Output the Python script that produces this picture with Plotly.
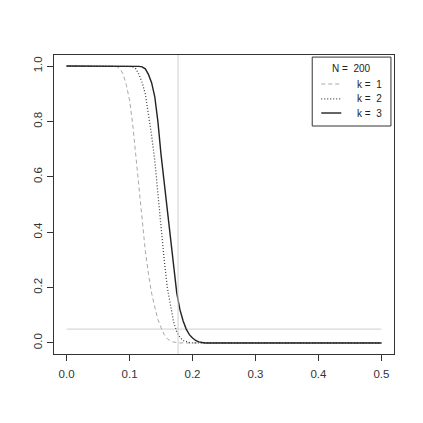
import plotly.graph_objects as go

# valores (potencia vs. efecto), N = 200
x_k1 = [0.0, 0.07, 0.075, 0.08, 0.085, 0.09, 0.095, 0.10, 0.105, 0.11, 0.115, 0.12,
        0.125, 0.13, 0.135, 0.14, 0.145, 0.15, 0.155, 0.16, 0.165, 0.17, 0.175, 0.18, 0.5]
y_k1 = [1.0, 1.0, 1.0, 0.998, 0.99, 0.97, 0.93, 0.877, 0.79, 0.68, 0.56, 0.44,
        0.333, 0.25, 0.18, 0.13, 0.085, 0.055, 0.03, 0.015, 0.007, 0.003, 0.001, 0.0, 0.0]

x_k2 = [0.0, 0.09, 0.10, 0.105, 0.11, 0.115, 0.12, 0.125, 0.13, 0.135, 0.14, 0.145,
        0.15, 0.155, 0.16, 0.165, 0.17, 0.175, 0.18, 0.185, 0.19, 0.195, 0.20, 0.5]
y_k2 = [1.0, 1.0, 0.999, 0.997, 0.99, 0.97, 0.94, 0.90, 0.83, 0.75, 0.66, 0.54,
        0.41, 0.30, 0.20, 0.13, 0.075, 0.04, 0.02, 0.009, 0.004, 0.001, 0.0, 0.0]

x_k3 = [0.0, 0.11, 0.115, 0.12, 0.125, 0.13, 0.135, 0.14, 0.145, 0.15, 0.155, 0.16,
        0.165, 0.17, 0.175, 0.18, 0.185, 0.19, 0.195, 0.20, 0.205, 0.21, 0.215, 0.22, 0.5]
y_k3 = [1.0, 1.0, 0.999, 0.997, 0.99, 0.97, 0.94, 0.89, 0.80, 0.68, 0.58, 0.47,
        0.36, 0.27, 0.18, 0.12, 0.08, 0.05, 0.03, 0.018, 0.009, 0.004, 0.001, 0.0, 0.0]

alfa = 0.05
x_critico = 0.177
rango_alfa = [0.0, 0.5]
etiquetas = ["k =  1", "k =  2", "k =  3"]
titulo_leyenda = "N =  200"

fig = go.Figure()

# lineas de referencia
fig.add_trace(go.Scatter(x=rango_alfa, y=[alfa, alfa], mode="lines",
                         line=dict(color="#cfcfcf", width=1), showlegend=False))
fig.add_shape(type="line", x0=x_critico, x1=x_critico, xref="x", y0=0, y1=1, yref="paper",
              line=dict(color="#cfcfcf", width=1))

estilos = [dict(color="#a8a8a8", width=1, dash="4px,3px"),
           dict(color="#444444", width=1.3, dash="1px,2px"),
           dict(color="#222222", width=1.4)]

for xs, ys, est in zip([x_k1, x_k2, x_k3], [y_k1, y_k2, y_k3], estilos):
    fig.add_trace(go.Scatter(x=xs, y=ys, mode="lines", line=est, showlegend=False))

# leyenda hecha a mano (como la de R)
fig.add_shape(type="rect", xref="paper", yref="paper", x0=0.7595, x1=0.991, y0=0.7625, y1=0.993,
              line=dict(color="#333333", width=1), fillcolor="white")
fig.add_annotation(text=titulo_leyenda, xref="paper", yref="paper", x=0.874, y=0.9565,
                   xanchor="center", yanchor="middle",
                   showarrow=False, font=dict(size=10, color="#222222"))
ys_ley = [0.903, 0.853, 0.806]
for yl, est, lab in zip(ys_ley, estilos, etiquetas):
    fig.add_shape(type="line", xref="paper", yref="paper", x0=0.786, x1=0.845, y0=yl, y1=yl, line=est)
    fig.add_annotation(text=lab, xref="paper", yref="paper", x=0.885, y=yl,
                       xanchor="left", yanchor="middle",
                       showarrow=False, font=dict(size=10, color="#222222"))

eje = dict(showline=True, mirror=True, linecolor="#333333", linewidth=1, showgrid=False,
           zeroline=False, ticks="outside", ticklen=6, tickcolor="#333333",
           tickfont=dict(family="Liberation Sans, Arial", size=11.5, color="#333333"))

# la pagina tiene 8px de margen en el body: 415 + 8 = 423
fig.update_layout(
    width=415, height=415,
    margin=dict(l=46, r=29, t=47, b=69),
    plot_bgcolor="white", paper_bgcolor="white",
    xaxis=dict(eje, range=[-0.02, 0.52], tickvals=[0, 0.1, 0.2, 0.3, 0.4, 0.5],
               ticktext=["0.0", "0.1", "0.2", "0.3", "0.4", "0.5"], ticklabelstandoff=3),
    yaxis=dict(eje, range=[-0.04, 1.04], tickvals=[0, 0.2, 0.4, 0.6, 0.8, 1.0],
               ticktext=["0.0", "0.2", "0.4", "0.6", "0.8", "1.0"], tickangle=-90),
    font=dict(family="Liberation Sans, Arial"),
)

fig.write_html("out.html")
